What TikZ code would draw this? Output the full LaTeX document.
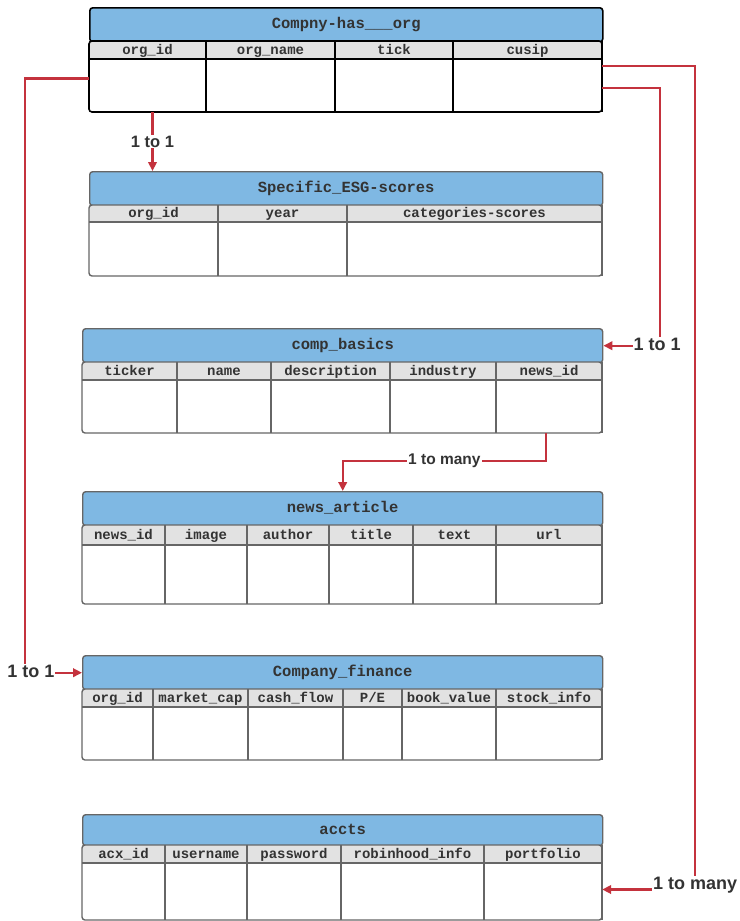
\documentclass[tikz,border=0pt]{standalone}
\usepackage{fontspec}
\setmainfont{Liberation Sans}
\newfontfamily\erdmono{Liberation Mono}
\usetikzlibrary{arrows.meta,calc}
\definecolor{hdrblue}{HTML}{7FB8E3}
\definecolor{colgrey}{HTML}{E2E2E2}
\definecolor{relred}{HTML}{C4323D}
\definecolor{txtgrey}{HTML}{333333}
\definecolor{bordgrey}{HTML}{666666}
\tikzset{
  hdr/.style={rectangle, rounded corners=3pt, fill=hdrblue, inner sep=0pt, text=txtgrey,
    text height=11pt, text depth=3pt,
    font=\erdmono\bfseries\fontsize{15.5}{16}\selectfont},
  colhd/.style={rectangle, inner sep=0pt, text=txtgrey, text height=10.5pt, text depth=2pt,
    font=\erdmono\bfseries\fontsize{14}{14}\selectfont},
  colbody/.style={rectangle, inner sep=0pt},
  rel/.style={draw=relred, line width=2.3pt, -{Triangle[length=9pt,width=8.5pt]}},
  rel lbl/.style={fill=white, inner sep=1pt, text=txtgrey, font=\bfseries\fontsize{18}{18}\selectfont},
}
\def\erdborder{bordgrey}
\def\erdlw{1.4pt}
% id, x1, x2, ytop, yhead, ycol, ybot, title, columns
\newcommand\erdtab[9]{%
  \node[hdr, draw=\erdborder, line width=\erdlw, minimum width={(#3)-(#2)},
        minimum height={(#5)-(#4)}, anchor=north west] (#1) at (#2,#4) {#8};
  \begin{scope}
    \clip[rounded corners=3pt] (#2,#5) rectangle (#3,#7);
    \fill[white] (#2,#5) rectangle (#3,#7);
    \fill[colgrey] (#2,#5) rectangle (#3,#6);
  \end{scope}
  \foreach \xa/\xb/\lab [count=\ci] in {#9} {
    \node[colhd, minimum width={\xb-\xa}, minimum height={(#6)-(#5)}]
      (#1h\ci) at ({(\xa+\xb)/2},{(#5+#6)/2}) {\lab};
    \node[colbody, minimum width={\xb-\xa}, minimum height={(#7)-(#6)}]
      (#1b\ci) at ({(\xa+\xb)/2},{(#6+#7)/2}) {};
    \draw[line width=\erdlw, draw=\erdborder] (\xb,#5) -- (\xb,#7);
  }
  \draw[line width=\erdlw, draw=\erdborder] (#2,#6) -- (#3,#6);
  \draw[line width=\erdlw, draw=\erdborder, rounded corners=3pt] (#2,#5) rectangle (#3,#7);
}
\begin{document}
\begin{tikzpicture}[x=1pt,y=-1pt]
\fill[white] (0,0) rectangle (739,921);
\useasboundingbox (0,0) rectangle (739,921);

\def\erdborder{black}
\def\erdlw{1.6pt}
\erdtab{ta}{89}{602}{7}{41}{59}{112}{Compny-has\_\_\_org}
  {89/206/org\_id, 206/335/org\_name, 335/453/tick, 453/602/cusip}

\def\erdborder{bordgrey}
\def\erdlw{1.4pt}
\erdtab{tb}{89}{602}{171}{205}{222}{276}{Specific\_ESG-scores}
  {89/218/org\_id, 218/347/year, 347/602/categories-scores}

\erdtab{tc}{82}{602}{328}{362}{380}{433}{comp\_basics}
  {82/177/ticker, 177/271/name, 271/390/description, 390/496/industry, 496/602/news\_id}

\erdtab{td}{82}{602}{491}{525}{545}{604}{news\_article}
  {82/165/news\_id, 165/247/image, 247/329/author, 329/413/title, 413/496/text, 496/602/url}

\erdtab{te}{82}{602}{655}{689}{707}{760}{Company\_finance}
  {82/153/org\_id, 153/248/market\_cap, 248/343/cash\_flow, 343/402/{P/E}, 402/496/book\_value, 496/602/stock\_info}

\erdtab{tf}{82}{602}{814}{845}{863}{920}{accts}
  {82/165/acx\_id, 165/247/username, 247/341/password, 341/484/robinhood\_info, 484/602/portfolio}

% connectors
\draw[rel] ([xshift=5pt]tab1.south) -- node[rel lbl, font=\bfseries\fontsize{16.5}{16.5}\selectfont] {1 to 1}
  ([xshift=5pt]tab1.south |- tb.north);

\draw[rel] ([yshift=7pt]tab1.west) -- ++(-64,0) |-
  node[rel lbl, pos=0.5, xshift=6pt, yshift=1pt] {1 to 1} (te.west);

\draw[rel] ([yshift=-2.5pt]tab4.east) -- ++(58,0) |-
  node[rel lbl, pos=0.5, xshift=-3pt, yshift=1pt] {1 to 1} (tc.east);

\draw[rel] ([yshift=19.5pt]tab4.east) -- ++(93,0) |-
  node[rel lbl, pos=0.5, yshift=4pt] {1 to many} ([yshift=2pt]tfb5.east);

\draw[rel] ([xshift=-3pt]tcb5.south) -- ++(0,28) -|
  node[rel lbl, pos=0.25, font=\bfseries\fontsize{15.5}{15.5}\selectfont] {1 to many} (td.north);
\end{tikzpicture}
\end{document}
